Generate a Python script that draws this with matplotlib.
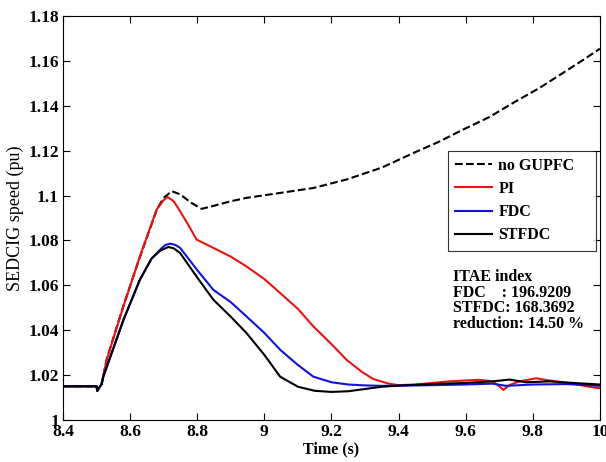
import numpy as np
import matplotlib.pyplot as plt

plt.rcParams['font.family'] = ['Liberation Serif', 'DejaVu Serif']

# values
t_nog = [8.40, 8.50, 8.502, 8.515, 8.53, 8.58, 8.63, 8.68, 8.70, 8.724, 8.75, 8.78, 8.813,
         8.85, 8.90, 8.947, 9.047, 9.146, 9.245, 9.35, 9.444, 9.52, 9.593, 9.67, 9.742,
         9.82, 9.891, 9.95, 10.0]
y_nog = [1.015, 1.015, 1.013, 1.016, 1.027, 1.051, 1.073, 1.094, 1.099, 1.102, 1.1005, 1.097, 1.0941,
         1.0955, 1.0975, 1.099, 1.1012, 1.1034, 1.1072, 1.1125, 1.119, 1.124, 1.1295, 1.135, 1.1414,
         1.148, 1.1548, 1.1605, 1.1655]

t_pi = [8.40, 8.50, 8.502, 8.515, 8.53, 8.58, 8.629, 8.679, 8.70, 8.711, 8.73, 8.749, 8.775,
        8.798, 8.848, 8.90, 8.947, 9.00, 9.047, 9.10, 9.146, 9.20, 9.245, 9.29, 9.325,
        9.37, 9.40, 9.45, 9.50, 9.55, 9.60, 9.64, 9.68, 9.70, 9.712, 9.73, 9.76, 9.79,
        9.81, 9.84, 9.88, 9.92, 9.96, 10.0]
y_pi = [1.015, 1.015, 1.013, 1.016, 1.0268, 1.0506, 1.0729, 1.0938, 1.098, 1.0994, 1.0975, 1.093, 1.0865,
        1.0804, 1.0767, 1.0728, 1.0684, 1.0628, 1.0566, 1.0495, 1.0417, 1.0338, 1.0268, 1.0215, 1.0182,
        1.0162, 1.0155, 1.0158, 1.0165, 1.0172, 1.0176, 1.0179, 1.0172, 1.0150, 1.0134, 1.0155, 1.0172, 1.0180,
        1.0186, 1.0178, 1.0170, 1.0162, 1.0150, 1.0141]

t_fdc = [8.40, 8.50, 8.502, 8.515, 8.52, 8.58, 8.629, 8.664, 8.69, 8.705, 8.719, 8.735, 8.749,
         8.80, 8.848, 8.90, 8.947, 9.00, 9.047, 9.10, 9.146, 9.20, 9.25, 9.30, 9.35,
         9.40, 9.50, 9.60, 9.68, 9.72, 9.80, 9.90, 10.0]
y_fdc = [1.015, 1.015, 1.013, 1.016, 1.0193, 1.0446, 1.0625, 1.072, 1.076, 1.078, 1.0786, 1.078, 1.0767,
         1.0668, 1.058, 1.0525, 1.0461, 1.0388, 1.0313, 1.0245, 1.0193, 1.0168, 1.0158, 1.0154, 1.0152,
         1.0153, 1.0155, 1.0158, 1.0162, 1.0152, 1.0158, 1.0160, 1.0152]

t_st = [8.40, 8.50, 8.502, 8.515, 8.52, 8.58, 8.629, 8.664, 8.69, 8.714, 8.73, 8.749, 8.80,
        8.848, 8.90, 8.947, 9.00, 9.047, 9.10, 9.15, 9.20, 9.25, 9.30, 9.35, 9.40,
        9.50, 9.60, 9.68, 9.73, 9.78, 9.85, 9.92, 10.0]
y_st = [1.015, 1.015, 1.013, 1.016, 1.0193, 1.0446, 1.0625, 1.072, 1.0755, 1.0771, 1.0765, 1.0744, 1.0635,
        1.0536, 1.046, 1.0387, 1.029, 1.0193, 1.0148, 1.0130, 1.0125, 1.0128, 1.0138, 1.0148, 1.0153,
        1.0160, 1.0165, 1.0172, 1.0180, 1.0168, 1.0172, 1.0165, 1.0158]

fig = plt.figure(figsize=(6.06, 4.62), dpi=100)
ax = fig.add_axes([0.104, 0.091, 0.886, 0.874])

ax.plot(t_nog, y_nog, 'k--', lw=1.5, label='no GUPFC')
ax.plot(t_pi, y_pi, color='#ee1111', lw=1.5, label='PI')
ax.plot(t_fdc, y_fdc, color='#1111dd', lw=1.5, label='FDC')
ax.plot(t_st, y_st, color='k', lw=1.5, label='STFDC')

ax.set_xlim(8.4, 10)
ax.set_ylim(1, 1.18)
ax.set_xticks(np.arange(8.4, 10.01, 0.2))
ax.set_xticklabels(['8.4', '8.6', '8.8', '9', '9.2', '9.4', '9.6', '9.8', '10'])
ax.set_yticks(np.arange(1, 1.181, 0.02))
ax.set_yticklabels(['1', '1.02', '1.04', '1.06', '1.08', '1.1', '1.12', '1.14', '1.16', '1.18'])
ax.tick_params(direction='in', top=True, right=True, length=5, labelsize=12.5, pad=3)
for lab in ax.get_xticklabels() + ax.get_yticklabels():
    lab.set_fontweight('bold')

ax.set_xlabel('Time (s)', fontsize=11.5, fontweight='bold', labelpad=1)
ax.set_ylabel('SEDCIG speed (pu)', fontsize=13, labelpad=3)

leg = ax.legend(loc='upper left', bbox_to_anchor=(0.717, 0.433, 0.276, 0.234), mode='expand',
                fancybox=False, edgecolor='k', prop={'weight': 'bold', 'size': 11.5},
                handlelength=2.3, borderpad=0.45, labelspacing=0.45, handletextpad=0.4,
                borderaxespad=0)
leg.get_frame().set_linewidth(0.8)

ax.text(0.726, 0.373, 'ITAE index\nFDC    : 196.9209\nSTFDC: 168.3692\nreduction: 14.50 %',
        transform=ax.transAxes, fontsize=11.5, fontweight='bold', va='top', linespacing=0.95)

fig.savefig('out.png', dpi=100)
